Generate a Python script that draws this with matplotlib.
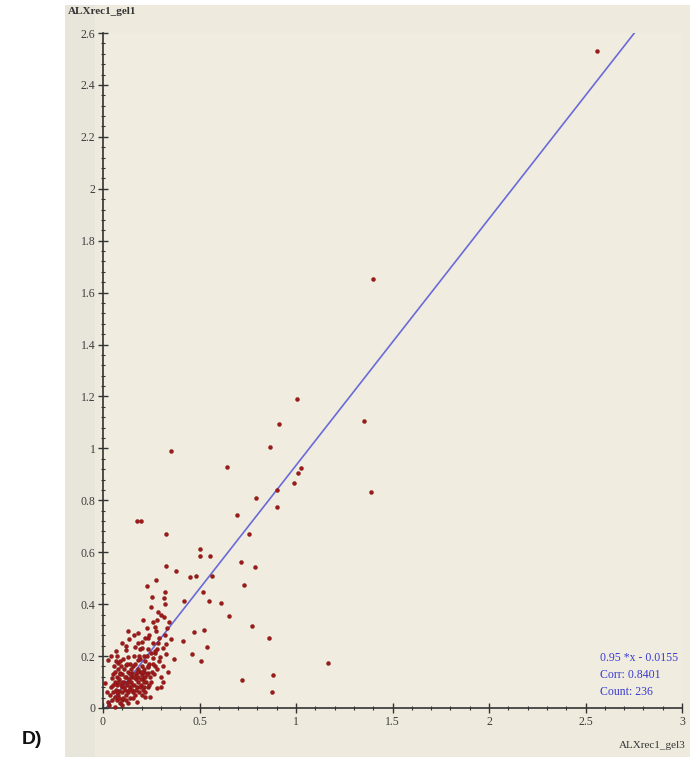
import matplotlib.pyplot as plt
from matplotlib.patches import Rectangle
from matplotlib.ticker import MultipleLocator

# Data (gel3 vs gel1)
x_outer = [2.56, 1.40, 1.007, 0.912, 1.354, 1.388, 0.865, 0.64, 1.028, 1.01,
           0.988, 0.90, 0.795, 0.90, 0.695, 0.755, 0.50, 0.50, 0.555, 0.714,
           0.79, 0.45, 0.48, 0.565, 0.352, 0.174, 0.195, 0.328, 0.328, 0.376,
           0.274, 0.228, 0.253, 0.322, 0.314, 0.42, 0.516, 0.547, 0.609, 0.653,
           0.733, 0.774, 0.862, 1.167, 0.473, 0.521, 0.54, 0.462, 0.507, 0.414,
           0.369, 0.335, 0.88, 0.72, 0.874]
y_outer = [2.53, 1.654, 1.19, 1.095, 1.104, 0.833, 1.007, 0.927, 0.923, 0.906,
           0.868, 0.84, 0.808, 0.773, 0.745, 0.669, 0.612, 0.587, 0.586, 0.561,
           0.543, 0.506, 0.508, 0.51, 0.991, 0.72, 0.72, 0.67, 0.547, 0.528,
           0.493, 0.47, 0.429, 0.447, 0.422, 0.413, 0.447, 0.413, 0.403, 0.354,
           0.473, 0.316, 0.27, 0.172, 0.291, 0.30, 0.235, 0.207, 0.182, 0.259,
           0.19, 0.1375, 0.127, 0.107, 0.062]

x_cluster = [0.286, 0.209, 0.26, 0.317, 0.269, 0.273, 0.128, 0.226, 0.183, 0.134,
             0.20, 0.231, 0.097, 0.283, 0.324, 0.352, 0.166, 0.191, 0.234, 0.278,
             0.312, 0.326, 0.297, 0.26, 0.066, 0.117, 0.131, 0.027, 0.079, 0.12,
             0.183, 0.234, 0.269, 0.234, 0.2, 0.01, 0.045, 0.088, 0.15, 0.312,
             0.30, 0.234, 0.278, 0.217, 0.243, 0.174, 0.131, 0.097, 0.062, 0.027,
             0.053, 0.085, 0.10, 0.14, 0.155]
y_cluster = [0.369, 0.339, 0.331, 0.349, 0.313, 0.298, 0.297, 0.308, 0.288, 0.265,
             0.255, 0.268, 0.249, 0.249, 0.246, 0.266, 0.234, 0.226, 0.226, 0.226,
             0.23, 0.208, 0.198, 0.191, 0.221, 0.223, 0.198, 0.185, 0.172, 0.165,
             0.185, 0.159, 0.162, 0.134, 0.127, 0.095, 0.114, 0.134, 0.134, 0.101,
             0.082, 0.082, 0.076, 0.044, 0.044, 0.024, 0.018, 0.031, 0.044, 0.024,
             0.063, 0.067, 0.08, 0.08, 0.06]

x_core = [0.035, 0.04, 0.05, 0.055, 0.06, 0.065, 0.07, 0.07, 0.075, 0.08,
          0.08, 0.085, 0.09, 0.09, 0.095, 0.1, 0.1, 0.105, 0.11, 0.11,
          0.115, 0.12, 0.12, 0.125, 0.13, 0.13, 0.135, 0.14, 0.14, 0.145,
          0.15, 0.15, 0.155, 0.16, 0.16, 0.165, 0.17, 0.17, 0.175, 0.18,
          0.18, 0.185, 0.19, 0.19, 0.195, 0.2, 0.2, 0.205, 0.21, 0.21,
          0.215, 0.22, 0.22, 0.225, 0.23, 0.24, 0.245, 0.25, 0.25, 0.255,
          0.03, 0.045, 0.05, 0.06, 0.065, 0.07, 0.075, 0.08, 0.085, 0.09,
          0.095, 0.1, 0.105, 0.11, 0.115, 0.12, 0.125, 0.13, 0.135, 0.14,
          0.145, 0.15, 0.155, 0.16, 0.165, 0.17, 0.175, 0.18, 0.185, 0.19,
          0.195, 0.2, 0.205, 0.21, 0.215, 0.22, 0.23, 0.235, 0.24, 0.26,
          0.265, 0.27, 0.28, 0.29, 0.3, 0.31, 0.32, 0.33, 0.34, 0.29,
          0.26, 0.24, 0.22, 0.28, 0.3, 0.32, 0.25, 0.27, 0.2, 0.18,
          0.16, 0.12, 0.04, 0.02, 0.06, 0.1]
y_core = [0.05, 0.08, 0.13, 0.16, 0.1, 0.07, 0.12, 0.03, 0.09, 0.15,
          0.05, 0.11, 0.02, 0.18, 0.09, 0.13, 0.06, 0.04, 0.1, 0.15,
          0.07, 0.12, 0.03, 0.09, 0.14, 0.06, 0.11, 0.17, 0.04, 0.1,
          0.12, 0.07, 0.16, 0.09, 0.2, 0.05, 0.13, 0.11, 0.08, 0.15,
          0.1, 0.06, 0.14, 0.19, 0.09, 0.16, 0.05, 0.11, 0.2, 0.14,
          0.08, 0.18, 0.12, 0.1, 0.2, 0.17, 0.12, 0.21, 0.1, 0.14,
          0.01, 0.03, 0.09, 0.14, 0.18, 0.06, 0.2, 0.1, 0.04, 0.13,
          0.16, 0.1, 0.19, 0.08, 0.12, 0.05, 0.17, 0.1, 0.07, 0.13,
          0.15, 0.09, 0.04, 0.12, 0.17, 0.07, 0.14, 0.12, 0.2, 0.08,
          0.11, 0.14, 0.07, 0.1, 0.15, 0.06, 0.13, 0.16, 0.09, 0.17,
          0.13, 0.21, 0.15, 0.18, 0.12, 0.16, 0.28, 0.31, 0.33, 0.27,
          0.25, 0.28, 0.27, 0.34, 0.36, 0.4, 0.39, 0.22, 0.23, 0.25,
          0.28, 0.24, 0.2, 0.06, 0.005, 0.01]

x_all = x_outer + x_cluster + x_core
y_all = y_outer + y_cluster + y_core

# Fit line as reported on the chart
slope, intercept = 0.95, -0.0155
fit_x = [0, 2.76]
fit_y = [slope * v + intercept for v in fit_x]

fig = plt.figure(figsize=(6.99, 7.63), dpi=100)
fig.patch.set_facecolor('white')
# beige panel behind the plot, slightly greyer strip on the left
fig.patches.append(Rectangle((65 / 699, 1 - 757 / 763), 625 / 699, 752 / 763,
                             transform=fig.transFigure, facecolor='#eeebde',
                             edgecolor='none', zorder=-10))
fig.patches.append(Rectangle((65 / 699, 1 - 757 / 763), 30 / 699, 752 / 763,
                             transform=fig.transFigure, facecolor='#e8e6da',
                             edgecolor='none', zorder=-9))

ax = fig.add_axes([103 / 699, 1 - 708 / 763, 579 / 699, 675 / 763])
ax.set_facecolor('#f0ede0')
ax.set_xlim(0, 3)
ax.set_ylim(0, 2.6)

ax.scatter(x_all, y_all, s=8, color='#9e1a1a', edgecolors='#7a1010',
           linewidths=0.3, zorder=3, clip_on=False)
ax.plot(fit_x, fit_y, color='#6a6ad8', linewidth=1.2, zorder=2)

for side in ['top', 'right']:
    ax.spines[side].set_visible(False)
for side in ['left', 'bottom']:
    ax.spines[side].set_color('#333333')
    ax.spines[side].set_linewidth(1.2)

ax.xaxis.set_minor_locator(MultipleLocator(0.1))
ax.yaxis.set_minor_locator(MultipleLocator(0.04))
ax.set_xticks([0, 0.5, 1, 1.5, 2, 2.5, 3])
ax.set_xticklabels(['0', '0.5', '1', '1.5', '2', '2.5', '3'])
yt = [0, 0.2, 0.4, 0.6, 0.8, 1, 1.2, 1.4, 1.6, 1.8, 2, 2.2, 2.4, 2.6]
ax.set_yticks(yt)
ax.set_yticklabels(['0', '0.2', '0.4', '0.6', '0.8', '1', '1.2', '1.4', '1.6',
                    '1.8', '2', '2.2', '2.4', '2.6'])
ax.tick_params(which='major', direction='inout', length=7, width=1,
               color='#333333', labelsize=8.5, labelcolor='#3c3c3c', pad=2)
ax.tick_params(which='minor', direction='inout', length=3, width=0.8,
               color='#333333')
for lab in ax.get_xticklabels() + ax.get_yticklabels():
    lab.set_family('Liberation Serif')

fig.text(68 / 699, 1 - 12 / 763, 'ALXrec1_gel1', family='Liberation Serif',
         fontsize=8, color='#333333', fontweight='bold', ha='left', va='center')
fig.text(686 / 699, 1 - 745 / 763, 'ALXrec1_gel3', family='Liberation Serif',
         fontsize=8, color='#333333', ha='right', va='center')

stats = ['0.95 *x - 0.0155', 'Corr: 0.8401', 'Count: 236']
for i, s in enumerate(stats):
    fig.text(600 / 699, 1 - (658 + 17 * i) / 763, s, family='Liberation Serif',
             fontsize=8.5, color='#3a3ad0', ha='left', va='center')

fig.text(22 / 699, 1 - 740 / 763, 'D)', family='Liberation Sans',
         fontsize=14, fontweight='bold', color='#111111', ha='left', va='center')

plt.savefig('out.png', dpi=100)
